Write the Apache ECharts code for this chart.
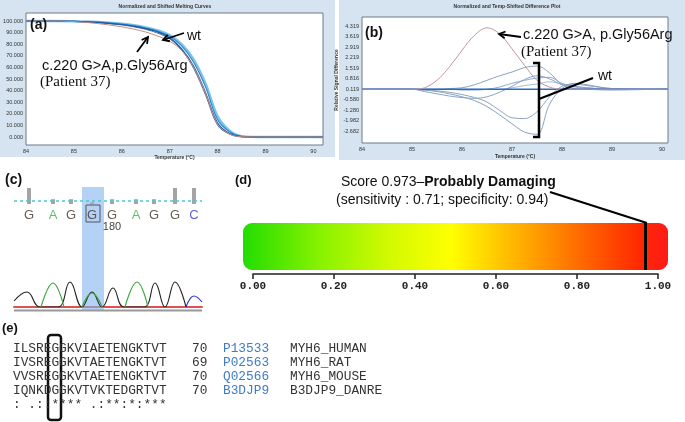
<!DOCTYPE html>
<html>
<head>
<meta charset="utf-8">
<script src="https://cdn.jsdelivr.net/npm/echarts@6/dist/echarts.min.js"></script>
<style>
html, body { margin: 0; padding: 0; background: #fff; }
#chart { width: 685px; height: 422px; }
</style>
</head>
<body>
<div id="chart"></div>
<script>
// (a) normalized melting curves
const tempA = [84, 84.5, 85, 85.5, 86, 86.25, 86.5, 86.75, 87, 87.25, 87.5, 87.75, 88, 88.25, 88.5, 89, 90, 90.2];
const meltWt1 = [100, 100, 99.7, 98.8, 97, 95.5, 93.5, 90.5, 85.5, 76, 61, 38, 12, 3, 0.3, 0, 0, 0];
const meltWt2 = [100, 100, 99.8, 99, 97.3, 96, 94, 91.3, 86.8, 78.5, 64.5, 43, 15, 4.5, 0.5, 0, 0, 0];
const meltWt3 = [100, 100, 99.7, 98.6, 96.6, 95, 92.8, 89.5, 84.5, 75, 59, 36, 10, 2.5, 0.2, 0, 0, 0];
const meltWt4 = [100, 100, 99.8, 99.1, 97.6, 96.3, 94.5, 92, 87.8, 80, 67, 46, 18, 5.5, 0.8, 0, 0, 0];
const meltPat = [100, 100, 99.5, 97.8, 95, 93, 90.5, 87, 82.5, 74.5, 60, 37.5, 11, 2.5, 0.2, 0, 0, 0];
const yTicksA = [0, 10, 20, 30, 40, 50, 60, 70, 80, 90, 100];
const xTicks = [84, 85, 86, 87, 88, 89, 90];

// (b) temp-shifted difference plot
const tempB = [84, 85, 85.25, 85.5, 85.75, 86, 86.25, 86.5, 86.75, 87, 87.25, 87.5, 87.75, 88, 88.25, 88.5, 89, 90, 90.12];
const diffPat = [0.1, 0.1, 0.2, 0.7, 1.6, 2.7, 3.7, 4.2, 3.8, 2.8, 1.7, 0.7, 0.25, 0.1, 0.1, 0.1, 0.1, 0.1, 0.1];
const diffRef = [0.1, 0.1, 0.1, 0.1, 0.1, 0.1, 0.1, 0.1, 0.1, 0.1, 0.1, 0.1, 0.1, 0.1, 0.1, 0.1, 0.1, 0.1, 0.1];
const diffWt1 = [0.1, 0.1, 0.05, -0.05, -0.2, -0.4, -0.65, -1.05, -1.6, -2.2, -2.75, -2.9, -0.9, 0.15, 0.5, 0.4, 0.15, 0.1, 0.1];
const diffWt2 = [0.1, 0.1, 0.05, 0, -0.1, -0.25, -0.45, -0.75, -1.3, -1.8, -1.85, -1.4, -0.4, 0.3, 0.45, 0.35, 0.15, 0.1, 0.1];
const diffWt3 = [0.1, 0.1, -0.05, -0.2, -0.35, -0.45, -0.5, -0.4, -0.1, 0.3, 0.75, 1.0, 0.8, 0.4, 0.3, 0.2, 0.1, 0.1, 0.1];
const diffWt4 = [0.1, 0.1, 0.1, 0.1, 0.15, 0.2, 0.4, 0.7, 1.0, 1.25, 1.55, 1.65, 1.2, 0.4, 0.15, 0.1, 0.05, 0.1, 0.1];
const diffWt5 = [0.1, 0.1, 0.1, 0.1, 0.1, 0.05, 0.05, 0.1, 0.25, 0.5, 0.7, 0.85, 0.9, 0.5, 0.3, 0.2, 0.1, 0.1, 0.1];
const diffWt6 = [0.1, 0.1, 0.1, 0.1, 0.1, 0.1, 0.1, 0.1, 0.1, 0.2, 0.35, 0.45, 0.6, 0.45, 0.25, 0.15, 0.1, 0.1, 0.1];
const yTicksB = [4.319, 3.619, 2.919, 2.219, 1.519, 0.816, 0.119, -0.580, -1.280, -1.982, -2.682];

// (c) chromatogram
const basePos = [15, 39, 57, 78, 98, 122, 140, 161, 180];
const baseCalls = ['G', 'A', 'G', 'G', 'G', 'A', 'G', 'G', 'C'];
const baseQual = [1, 0.3, 0.3, 0.1, 0.3, 0.3, 0.3, 1, 1];
const traceG = [[0, 6], [13, 15], [26, 0], [44, 0], [56, 25], [68, 0], [78, 15], [88, 0], [99, 19], [110, 0], [130, 0], [141, 24], [151, 0], [161, 25], [172, 0]];
const traceA = [[27, 0], [39, 24], [50, 0], '-', [68, 0], [78, 14], [88, 0], '-', [111, 0], [123, 25], [134, 0]];
const traceC = [[172, 0], [180, 11], [188, 5]];

// (d) PolyPhen score
const score = 0.973;
const sensitivity = 0.71;
const specificity = 0.94;
const scoreTicks = [0, 0.2, 0.4, 0.6, 0.8, 1];

// (e) alignment
const alnSeqs = ['ILSREGGKVIAETENGKTVT', 'IVSREGGKVTAETENGKTVT', 'VVSREGGKVTAETENGKTVT', 'IQNKDGGKVTVKTEDGRTVT'];
const alnEnds = [70, 69, 70, 70];
const alnIds = ['P13533', 'P02563', 'Q02566', 'B3DJP9'];
const alnNames = ['MYH6_HUMAN', 'MYH6_RAT', 'MYH6_MOUSE', 'B3DJP9_DANRE'];
const alnCons = ': .::**** .:**:*:***';

const chart = echarts.init(document.getElementById('chart'));

const baseColor = { G: '#3e3228', A: '#3fae3f', C: '#3535d8' };
const tinyLabel = { fontSize: 5.5, color: '#333', fontFamily: 'Liberation Sans', margin: 3 };
const sans = 'Liberation Sans';
const mono = 'Liberation Mono';

function pairs(xs, ys) {
  return xs.map((x, i) => [x, ys[i]]);
}
function line(data, xi, color, width) {
  return {
    type: 'line', xAxisIndex: xi, yAxisIndex: xi, data: data,
    smooth: 0.35, showSymbol: false, silent: true,
    lineStyle: { color: color, width: width || 1 }
  };
}
function txt(x, y, text, font, fill, align) {
  return {
    type: 'text', z: 10, x: x, y: y,
    style: {
      text: text, font: font, fill: fill || '#111',
      align: align || 'left', verticalAlign: 'middle',
      textAlign: align || 'left', textVerticalAlign: 'middle'
    }
  };
}
function seg(x1, y1, x2, y2, w) {
  return { type: 'line', z: 10, shape: { x1: x1, y1: y1, x2: x2, y2: y2 }, style: { stroke: '#000', lineWidth: w || 1.8 } };
}
function arrow(x1, y1, x2, y2) {
  const a = Math.atan2(y2 - y1, x2 - x1), L = 7, s = 0.5;
  return [seg(x1, y1, x2, y2, 1.8), {
    type: 'polyline', z: 10,
    shape: { points: [[x2 - L * Math.cos(a - s), y2 - L * Math.sin(a - s)], [x2, y2], [x2 - L * Math.cos(a + s), y2 - L * Math.sin(a + s)]] },
    style: { stroke: '#000', lineWidth: 1.8, fill: null }
  }];
}

const graphics = [
  { type: 'rect', z: -1, shape: { x: 0, y: 0, width: 335, height: 157 }, style: { fill: '#d5e4f0' } },
  { type: 'rect', z: -1, shape: { x: 339, y: 0, width: 346, height: 160 }, style: { fill: '#d5e4f0' } },
  txt(165, 6.5, 'Normalized and Shifted Melting Curves', 'bold 5px Liberation Sans', '#333', 'center'),
  txt(507, 6.5, 'Normalized and Temp-Shifted Difference Plot', 'bold 5px Liberation Sans', '#333', 'center'),
  // (a)
  txt(30, 25, '(a)', 'bold 14px Liberation Sans'),
  txt(187, 36, 'wt', '14px Liberation Sans'),
  txt(42, 66, 'c.220 G>A,p.Gly56Arg', '14.5px Liberation Sans'),
  txt(40, 82, '(Patient 37)', '15px Liberation Serif'),
  ...arrow(184, 33, 163, 40),
  ...arrow(137, 52, 148, 37),
  // (b)
  txt(365, 33, '(b)', 'bold 14px Liberation Sans'),
  txt(523, 35, 'c.220 G>A, p.Gly56Arg', '14.5px Liberation Sans'),
  txt(521, 52, '(Patient 37)', '15px Liberation Serif'),
  txt(598, 76, 'wt', '14px Liberation Sans'),
  ...arrow(521, 37, 499, 34),
  { type: 'polyline', z: 10, shape: { points: [[533, 63], [539, 63], [539, 137], [533, 137]] }, style: { stroke: '#000', lineWidth: 2.5, fill: null } },
  seg(539, 99, 593, 78, 2),
  // (c)
  txt(5, 180, '(c)', 'bold 14px Liberation Sans'),
  { type: 'rect', z: 1, shape: { x: 82, y: 187, width: 22, height: 123 }, style: { fill: 'rgba(130,178,240,0.6)' } },
  { type: 'rect', z: 10, shape: { x: 86, y: 205, width: 14, height: 17 }, style: { stroke: '#555', lineWidth: 1, fill: null } },
  txt(112, 227, '180', '11px Liberation Sans', '#444', 'center'),
  { type: 'rect', z: 1, shape: { x: 14, y: 309.5, width: 188, height: 2 }, style: { fill: '#999' } },
  // (d)
  txt(235, 180, '(d)', 'bold 13px Liberation Sans'),
  {
    type: 'text', z: 10, x: 341, y: 182,
    style: {
      text: '{n|Score ' + score + '–}{b|Probably Damaging}',
      rich: { n: { font: '14px Liberation Sans', fill: '#111' }, b: { font: 'bold 14px Liberation Sans', fill: '#111' } },
      align: 'left', verticalAlign: 'middle', textAlign: 'left', textVerticalAlign: 'middle'
    }
  },
  txt(336, 200, '(sensitivity : ' + sensitivity + '; specificity: ' + specificity + ')', '14px Liberation Sans'),
  // (e)
  txt(2, 328, '(e)', 'bold 13px Liberation Sans'),
  { type: 'rect', z: 10, shape: { x: 48, y: 335, width: 13, height: 85, r: 3 }, style: { stroke: '#111', lineWidth: 2.5, fill: null } }
];

alnSeqs.forEach((s, i) => {
  const y = 349 + i * 14;
  graphics.push(txt(13, y, s, '12.8px Liberation Mono', '#333'));
  graphics.push(txt(192, y, String(alnEnds[i]), '12.8px Liberation Mono', '#333'));
  graphics.push(txt(223, y, alnIds[i], '12.8px Liberation Mono', '#3d7cc9'));
  graphics.push(txt(290, y, alnNames[i], '12.8px Liberation Mono', '#333'));
});
graphics.push(txt(13, 405, alnCons, '12.8px Liberation Mono', '#333'));

const hidden = { show: false };

const option = {
  animation: false,
  backgroundColor: '#fff',
  grid: [
    { left: 26, top: 13, width: 297, height: 132, show: true, backgroundColor: '#fff', borderColor: '#6d7b88', borderWidth: 1, outerBoundsMode: 'none' },
    { left: 362, top: 17, width: 306, height: 126, show: true, backgroundColor: '#fff', borderColor: '#6d7b88', borderWidth: 1, outerBoundsMode: 'none' },
    { left: 14, top: 188, width: 188, height: 16, outerBoundsMode: 'none' },
    { left: 14, top: 208, width: 188, height: 14, outerBoundsMode: 'none' },
    { left: 14, top: 277, width: 188, height: 30, outerBoundsMode: 'none' },
    { left: 243, top: 223, width: 425, height: 47, outerBoundsMode: 'none' },
    { left: 253, top: 273, width: 405, height: 1, outerBoundsMode: 'none' }
  ],
  xAxis: [
    {
      gridIndex: 0, type: 'value', min: 84, max: 90.2,
      name: 'Temperature (°C)', nameLocation: 'middle', nameGap: 9,
      nameTextStyle: { fontSize: 5, fontWeight: 'bold', color: '#333', fontFamily: sans },
      axisLine: hidden, axisTick: hidden, splitLine: hidden,
      axisLabel: Object.assign({ customValues: xTicks }, tinyLabel)
    },
    {
      gridIndex: 1, type: 'value', min: 84, max: 90.12,
      name: 'Temperature (°C)', nameLocation: 'middle', nameGap: 11,
      nameTextStyle: { fontSize: 5, fontWeight: 'bold', color: '#333', fontFamily: sans },
      axisLine: hidden, axisTick: hidden, splitLine: hidden,
      axisLabel: Object.assign({ customValues: xTicks }, tinyLabel)
    },
    { gridIndex: 2, type: 'value', min: 0, max: 188, show: false },
    { gridIndex: 3, type: 'value', min: 0, max: 188, show: false },
    {
      gridIndex: 4, type: 'value', min: 0, max: 188,
      axisLine: { show: true, lineStyle: { color: '#e05050', width: 2 } },
      axisTick: hidden, axisLabel: hidden, splitLine: hidden
    },
    { gridIndex: 5, type: 'value', min: -0.025, max: 1.025, show: false },
    {
      gridIndex: 6, type: 'value', min: 0, max: 1, position: 'bottom',
      axisLine: { show: true, lineStyle: { color: '#222', width: 1.5 } },
      axisTick: { show: true, length: 5, customValues: scoreTicks, lineStyle: { color: '#222', width: 1.5 } },
      splitLine: hidden,
      axisLabel: {
        customValues: scoreTicks, margin: 7,
        formatter: v => v.toFixed(2),
        fontFamily: mono, fontWeight: 'bold', fontSize: 11, color: '#222'
      }
    }
  ],
  yAxis: [
    {
      gridIndex: 0, type: 'value', min: -6.9, max: 106.9,
      name: 'Relative Signal (%)', nameLocation: 'middle', nameGap: 19,
      nameTextStyle: { fontSize: 5, fontWeight: 'bold', color: '#333', fontFamily: sans },
      axisLine: hidden, axisTick: hidden, splitLine: hidden,
      axisLabel: Object.assign({ customValues: yTicksA, formatter: v => v.toFixed(3) }, tinyLabel)
    },
    {
      gridIndex: 1, type: 'value', min: -3.48, max: 4.92,
      name: 'Relative Signal Difference', nameLocation: 'middle', nameGap: 17,
      nameTextStyle: { fontSize: 5, fontWeight: 'bold', color: '#333', fontFamily: sans },
      axisLine: hidden, axisTick: hidden, splitLine: hidden,
      axisLabel: Object.assign({ customValues: yTicksB, formatter: v => v.toFixed(3) }, tinyLabel)
    },
    { gridIndex: 2, type: 'value', min: 0, max: 1, show: false },
    { gridIndex: 3, type: 'value', min: 0, max: 1, show: false },
    { gridIndex: 4, type: 'value', min: 0, max: 30, show: false },
    { gridIndex: 5, type: 'value', min: 0, max: 1, show: false },
    { gridIndex: 6, type: 'value', min: 0, max: 1, show: false }
  ],
  graphic: { elements: graphics },
  series: [
    // (a)
    line(pairs(tempA, meltWt4), 0, '#7cc6ea', 2.4),
    line(pairs(tempA, meltWt3), 0, '#4d7497', 1),
    line(pairs(tempA, meltWt2), 0, '#2f86cf', 1.2),
    line(pairs(tempA, meltWt1), 0, '#1d5aa6', 1.2),
    line(pairs(tempA, meltPat), 0, '#c98a80', 1),
    // (b)
    line(pairs(tempB, diffWt6), 1, '#a9bcd3', 1),
    line(pairs(tempB, diffWt5), 1, '#8eaad0', 1),
    line(pairs(tempB, diffWt4), 1, '#8aa3c2', 1),
    line(pairs(tempB, diffWt3), 1, '#8ba4c6', 1),
    line(pairs(tempB, diffWt2), 1, '#8ea5c2', 1),
    line(pairs(tempB, diffWt1), 1, '#8aa2c0', 1),
    line(pairs(tempB, diffRef), 1, '#2a6cc0', 1.6),
    line(pairs(tempB, diffPat), 1, '#c8939f', 1),
    // (c) quality bars
    {
      type: 'bar', xAxisIndex: 2, yAxisIndex: 2, barWidth: 4, silent: true,
      data: pairs(basePos, baseQual),
      itemStyle: { color: '#a4a4a4' },
      markLine: {
        silent: true, symbol: 'none', label: { show: false },
        lineStyle: { color: '#4cc8d0', type: [3, 3], width: 1.5 },
        data: [{ yAxis: 0.19 }]
      }
    },
    // (c) base calls
    {
      type: 'scatter', xAxisIndex: 3, yAxisIndex: 3, symbolSize: 1, silent: true,
      itemStyle: { color: 'rgba(0,0,0,0)' },
      data: basePos.map((p, i) => ({
        value: [p, 0.5],
        label: {
          show: true, position: 'inside', formatter: baseCalls[i],
          fontSize: 13, fontFamily: sans, color: baseColor[baseCalls[i]]
        }
      }))
    },
    // (c) traces
    { type: 'line', xAxisIndex: 4, yAxisIndex: 4, data: traceG, smooth: 0.45, showSymbol: false, silent: true, lineStyle: { color: '#222', width: 1.1 } },
    { type: 'line', xAxisIndex: 4, yAxisIndex: 4, data: traceA, smooth: 0.45, showSymbol: false, silent: true, connectNulls: false, lineStyle: { color: '#3aa63a', width: 1.1 } },
    { type: 'line', xAxisIndex: 4, yAxisIndex: 4, data: traceC, smooth: 0.45, showSymbol: false, silent: true, lineStyle: { color: '#3030d0', width: 1.1 } },
    // (d) score scale bar
    {
      type: 'custom', xAxisIndex: 5, yAxisIndex: 5, silent: true,
      data: [[-0.025, 1.025]],
      renderItem: function (params, api) {
        const s = api.coord([api.value(0), 1]);
        const e = api.coord([api.value(1), 0]);
        return {
          type: 'rect',
          shape: { x: s[0], y: s[1], width: e[0] - s[0], height: e[1] - s[1], r: 9 },
          style: {
            fill: new echarts.graphic.LinearGradient(0, 0, 1, 0, [
              { offset: 0, color: '#22dd00' },
              { offset: 0.18, color: '#88f200' },
              { offset: 0.35, color: '#d4fa00' },
              { offset: 0.49, color: '#ffff00' },
              { offset: 0.65, color: '#ffb000' },
              { offset: 0.81, color: '#ff6200' },
              { offset: 0.93, color: '#ff2a00' },
              { offset: 1, color: '#ff1a1a' }
            ])
          }
        };
      },
      markLine: {
        silent: true, symbol: 'none', label: { show: false },
        lineStyle: { color: '#000', type: 'solid', width: 3 },
        data: [{ xAxis: score }]
      }
    }
  ]
};

chart.setOption(option);

// leader from the score marker to the caption
const markerTop = chart.convertToPixel({ xAxisIndex: 5, yAxisIndex: 5 }, [score, 1]);
chart.setOption({
  graphic: { elements: [{ id: 'leader', type: 'line', z: 10, shape: { x1: markerTop[0], y1: markerTop[1], x2: 550, y2: 192 }, style: { stroke: '#000', lineWidth: 2 } }] }
});
</script>
</body>
</html>
